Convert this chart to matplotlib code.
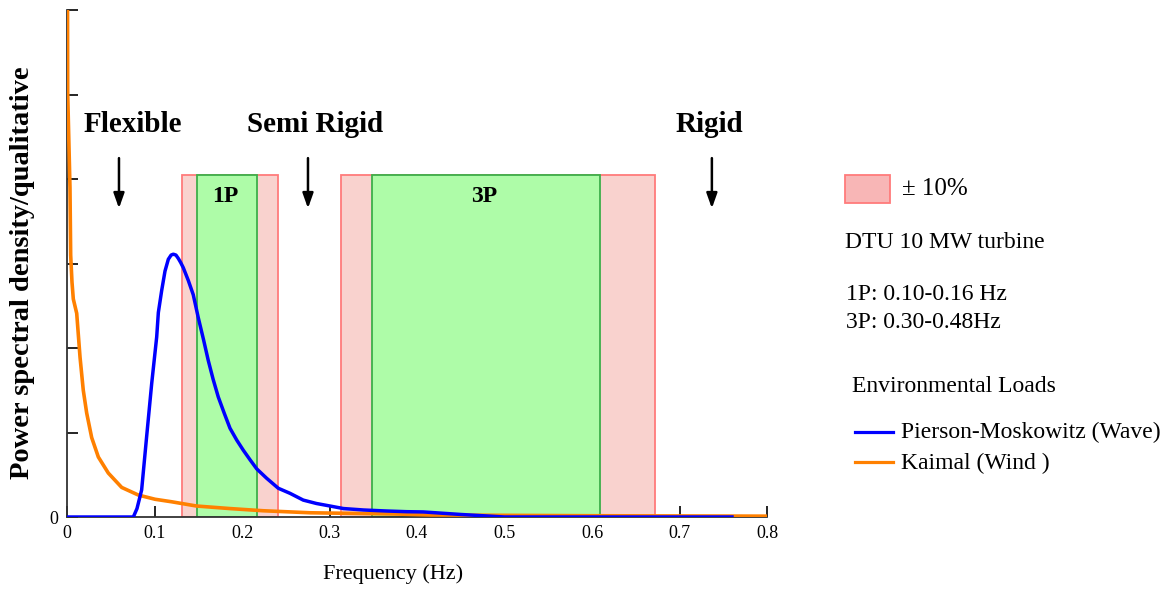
import matplotlib
matplotlib.use("Agg")
import matplotlib.pyplot as plt
from matplotlib.patches import Rectangle
from matplotlib.lines import Line2D

# ---------------- data ----------------
wave_f = [0.0, 0.0758, 0.0800, 0.0853, 0.0910, 0.0968, 0.1025, 0.1044, 0.1082,
          0.1120, 0.1158, 0.1190, 0.1215, 0.1245, 0.1272, 0.1300, 0.1329, 0.1386,
          0.1443, 0.1500, 0.1560, 0.1615, 0.1670, 0.1729, 0.1800, 0.1863, 0.1940,
          0.2015, 0.2090, 0.2168, 0.2280, 0.2415, 0.2549, 0.2700, 0.2850, 0.3006,
          0.3160, 0.3390, 0.3650, 0.3880, 0.4070, 0.4500, 0.5000, 0.7600]
wave_s = [0.0, 0.0, 0.10, 0.32, 0.95, 1.58, 2.13, 2.42, 2.68,
          2.91, 3.05, 3.10, 3.11, 3.10, 3.06, 3.01, 2.95, 2.80,
          2.63, 2.36, 2.10, 1.85, 1.63, 1.42, 1.22, 1.05, 0.91,
          0.79, 0.68, 0.57, 0.46, 0.34, 0.28, 0.20, 0.16, 0.13,
          0.10, 0.083, 0.071, 0.063, 0.060, 0.03, 0.0, 0.0]

wind_f = [0.0005, 0.0008, 0.0034, 0.0042, 0.0057, 0.0072, 0.0111, 0.0149,
          0.0186, 0.0225, 0.0282, 0.0358, 0.0472, 0.0625, 0.0815, 0.1006, 0.1197,
          0.148, 0.186, 0.224, 0.278, 0.377, 0.415, 0.60, 0.80]
wind_s = [6.5, 5.01, 3.90, 3.10, 2.78, 2.58, 2.41, 1.89,
          1.50, 1.23, 0.94, 0.71, 0.52, 0.35, 0.26, 0.21, 0.18,
          0.13, 0.10, 0.074, 0.05, 0.035, 0.024, 0.015, 0.01]

band_names = ["1P", "3P"]
band_lo = [0.149, 0.349]
band_hi = [0.217, 0.609]
tol_lo = [0.131, 0.313]
tol_hi = [0.241, 0.672]
band_top = 4.05

regions = ["Flexible", "Semi Rigid", "Rigid"]
region_x = [0.0594, 0.2754, 0.737]
region_text_x = [0.0754, 0.284, 0.734]

xticks = [0, 0.1, 0.2, 0.3, 0.4, 0.5, 0.6, 0.7, 0.8]
xticklabels = ["0", "0.1", "0.2", "0.3", "0.4", "0.5", "0.6", "0.7", "0.8"]

# ---------------- figure ----------------
W, H = 1172, 592
fig = plt.figure(figsize=(W / 100, H / 100), dpi=100)
plt.rcParams['font.family'] = ['Liberation Serif', 'DejaVu Serif']
ax = fig.add_axes([67 / W, 1 - 517 / H, 700 / W, 507 / H])

red_fill = "#F9D2CE"
red_edge = "#FF7B7B"
green_fill = "#AEFCA8"
green_edge = "#3DAF4A"

for name, lo, hi, rlo, rhi in zip(band_names, band_lo, band_hi, tol_lo, tol_hi):
    ax.add_patch(Rectangle((rlo, 0), rhi - rlo, band_top, facecolor=red_fill,
                           edgecolor=red_edge, lw=1.3, zorder=1))
    ax.add_patch(Rectangle((lo, 0), hi - lo, band_top, facecolor=green_fill,
                           edgecolor=green_edge, lw=1.3, zorder=2))
    ax.text((lo + hi) / 2 - 0.002, 3.79, name, ha="center", va="center",
            fontsize=17, fontweight="bold", zorder=3)

ax.plot(wind_f, wind_s, color="#FF8000", lw=2.6, zorder=4)
ax.plot(wave_f, wave_s, color="#0000FF", lw=2.5, zorder=5)

for name, xa, xt in zip(regions, region_x, region_text_x):
    ax.text(xt, 4.65, name, ha="center", va="center", fontsize=21,
            fontweight="bold")
    ax.annotate("", xy=(xa, 3.62), xytext=(xa, 4.28),
                arrowprops=dict(arrowstyle="-|>,head_length=0.9,head_width=0.32",
                                color="black", lw=1.8))

ax.set_xlim(0, 0.8)
ax.set_ylim(0, 6)
ax.set_xticks(xticks)
ax.set_xticklabels(xticklabels, fontsize=13)
ax.set_yticks([0, 1, 2, 3, 4, 5, 6])
ax.set_yticklabels(["0", "", "", "", "", "", ""], fontsize=13)
ax.tick_params(direction="in", length=8, width=1.2, color="black", pad=6)
ax.spines["top"].set_visible(False)
ax.spines["right"].set_visible(False)
for s in ("left", "bottom"):
    ax.spines[s].set_linewidth(1.3)
    ax.spines[s].set_color("#333333")
ax.set_xlabel("Frequency (Hz)", fontsize=16)
ax.xaxis.set_label_coords(0.466, -0.093)
ax.set_ylabel("Power spectral density/qualitative", fontsize=20.5,
              fontweight="bold")
ax.yaxis.set_label_coords(-0.046, 0.482)

# ---------------- right-hand legend ----------------
def px(x, y):
    return x / W, 1 - y / H

fig.add_artist(Rectangle(px(845, 203), 45 / W, 28 / H, transform=fig.transFigure,
                         facecolor="#F8B6B6", edgecolor="#FF7B7B", lw=1.3))
fig.text(*px(902, 189), "± 10%", fontsize=18, va="center", ha="left")
fig.text(*px(845, 242), "DTU 10 MW turbine", fontsize=17, va="center", ha="left")
fig.text(*px(846, 294), "1P: 0.10-0.16 Hz", fontsize=17, va="center", ha="left")
fig.text(*px(846, 323), "3P: 0.30-0.48Hz", fontsize=17, va="center", ha="left")
fig.text(*px(852, 387), "Environmental Loads", fontsize=17, va="center", ha="left")
x0, y0 = px(855, 432)
x1, _ = px(893, 432)
fig.add_artist(Line2D([x0, x1], [y0, y0], transform=fig.transFigure, color="#0000FF", lw=2.3))
fig.text(*px(901, 432), "Pierson-Moskowitz (Wave)", fontsize=17, va="center", ha="left")
x0, y0 = px(855, 462)
fig.add_artist(Line2D([x0, x1], [y0, y0], transform=fig.transFigure, color="#FF8000", lw=2.3))
fig.text(*px(901, 463), "Kaimal (Wind )", fontsize=17, va="center", ha="left")

fig.savefig("out.png", dpi=100)
